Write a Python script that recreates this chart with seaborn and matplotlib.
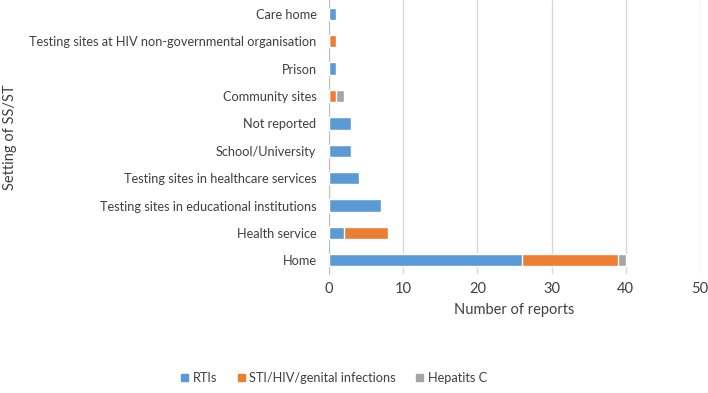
import numpy as np
import pandas as pd
import matplotlib
matplotlib.use("Agg")
import matplotlib.pyplot as plt
import seaborn as sns
from matplotlib.patches import Patch

categories = ["Care home", "Testing sites at HIV non-governmental organisation", "Prison",
              "Community sites", "Not reported", "School/University",
              "Testing sites in healthcare services", "Testing sites in educational institutions",
              "Health service", "Home"]
rtis = [1, 0, 1, 0, 3, 3, 4, 7, 2, 26]
sti = [0, 1, 0, 1, 0, 0, 0, 0, 6, 13]
hepc = [0, 0, 0, 1, 0, 0, 0, 0, 0, 1]
series_names = ["RTIs", "STI/HIV/genital infections", "Hepatits C"]
colors = ["#5B9BD5", "#ED7D31", "#A5A5A5"]

sns.set_style("white")
plt.rcParams['font.family'] = ['Lato', 'DejaVu Sans']

df = pd.DataFrame({"cat": categories, "RTIs": rtis, "STI": sti, "HepC": hepc})
df["c1"] = df["RTIs"]
df["c2"] = df["RTIs"] + df["STI"]
df["c3"] = df["c2"] + df["HepC"]

fig = plt.figure(figsize=(7.08, 3.93), dpi=100)
ax = fig.add_axes([0.4647, 0.3028, 0.524, 0.697])

for col, c in zip(["c3", "c2", "c1"], [colors[2], colors[1], colors[0]]):
    sns.barplot(data=df, y="cat", x=col, orient="h", color=c, width=0.45,
                saturation=1, ax=ax, order=categories, zorder=3)

ax.set_xlim(0, 50)
ax.set_xticks(range(0, 51, 10))
ax.grid(axis="x", color="#D9D9D9", linewidth=1, zorder=0)
ax.set_axisbelow(True)
for s in ["top", "right", "bottom"]:
    ax.spines[s].set_visible(False)
ax.spines["left"].set_color("#BFBFBF")
ax.tick_params(axis="y", length=0, labelsize=9.2, colors="#404040", pad=9)
ax.tick_params(axis="x", length=0, labelsize=10.5, colors="#404040", pad=6)
ax.set_xlabel("Number of reports", fontsize=10.5, color="#404040", labelpad=5)
ax.set_ylabel("")
fig.text(0.014, 0.65, "Setting of SS/ST", rotation=90, va="center", ha="center",
         fontsize=10.5, color="#404040")

handles = [Patch(color=c, label=n) for c, n in zip(colors, series_names)]
fig.legend(handles=handles, loc="center", bbox_to_anchor=(0.472, 0.038), ncol=3,
           frameon=False, fontsize=9.2, handlelength=0.55, handleheight=0.55,
           handletextpad=0.35, columnspacing=1.6, labelcolor="#404040")

fig.savefig("out.png", dpi=100)
